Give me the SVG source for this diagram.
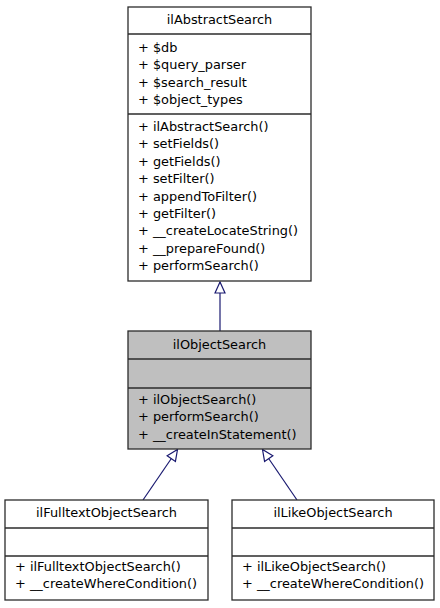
<svg xmlns="http://www.w3.org/2000/svg" width="440" height="608" viewBox="0 0 440 608">
<defs>
<style>
.box{fill:#ffffff;stroke:#2b2b2b;stroke-width:1.3}
.gray{fill:#bfbfbf}
.sep{stroke:#2b2b2b;stroke-width:1.3;fill:none}
text{font-family:"DejaVu Sans","Liberation Sans",sans-serif;font-size:12.9px;fill:#000000}
.t{text-anchor:middle}
.edge{stroke:#191970;stroke-width:1.2;fill:none;marker-end:url(#tri)}
</style>
<marker id="tri" markerUnits="userSpaceOnUse" markerWidth="13" markerHeight="12" refX="12" refY="6" orient="auto">
<path d="M1,1 L12,6 L1,11 Z" fill="#ffffff" stroke="#191970" stroke-width="1.2"/>
</marker>
</defs>
<rect width="440" height="608" fill="#ffffff"/>
<g id="connectors">
<line class="edge" x1="220" y1="331" x2="220" y2="282"/>
<line class="edge" x1="143" y1="500" x2="177.5" y2="449.5"/>
<line class="edge" x1="297" y1="500" x2="262.5" y2="449.5"/>
</g>
<g id="ilAbstractSearch">
<rect class="box" x="128" y="7" width="183" height="274"/>
<line class="sep" x1="128" y1="34" x2="311" y2="34"/>
<line class="sep" x1="128" y1="114" x2="311" y2="114"/>
<text class="t" x="219.5" y="24">ilAbstractSearch</text>
<text x="138" y="52">+ $db</text>
<text x="138" y="69.3">+ $query_parser</text>
<text x="138" y="86.6">+ $search_result</text>
<text x="138" y="104">+ $object_types</text>
<text x="138" y="131">+ ilAbstractSearch()</text>
<text x="138" y="148.4">+ setFields()</text>
<text x="138" y="165.8">+ getFields()</text>
<text x="138" y="183.2">+ setFilter()</text>
<text x="138" y="200.6">+ appendToFilter()</text>
<text x="138" y="218">+ getFilter()</text>
<text x="138" y="235.4">+ __createLocateString()</text>
<text x="138" y="252.8">+ __prepareFound()</text>
<text x="138" y="270.2">+ performSearch()</text>
</g>
<g id="ilObjectSearch">
<rect class="box gray" x="128" y="331" width="183" height="118"/>
<line class="sep" x1="128" y1="359" x2="311" y2="359"/>
<line class="sep" x1="128" y1="388" x2="311" y2="388"/>
<text class="t" x="219.5" y="348.5">ilObjectSearch</text>
<text x="138" y="404">+ ilObjectSearch()</text>
<text x="138" y="421.3">+ performSearch()</text>
<text x="138" y="438.6">+ __createInStatement()</text>
</g>
<g id="ilFulltextObjectSearch">
<rect class="box" x="5" y="500" width="203" height="100"/>
<line class="sep" x1="5" y1="528" x2="208" y2="528"/>
<line class="sep" x1="5" y1="556" x2="208" y2="556"/>
<text class="t" x="106.5" y="517">ilFulltextObjectSearch</text>
<text x="15" y="571">+ ilFulltextObjectSearch()</text>
<text x="15" y="588.3">+ __createWhereCondition()</text>
</g>
<g id="ilLikeObjectSearch">
<rect class="box" x="232" y="500" width="202" height="100"/>
<line class="sep" x1="232" y1="528" x2="434" y2="528"/>
<line class="sep" x1="232" y1="556" x2="434" y2="556"/>
<text class="t" x="333" y="517">ilLikeObjectSearch</text>
<text x="242" y="571">+ ilLikeObjectSearch()</text>
<text x="242" y="588.3">+ __createWhereCondition()</text>
</g>
</svg>
